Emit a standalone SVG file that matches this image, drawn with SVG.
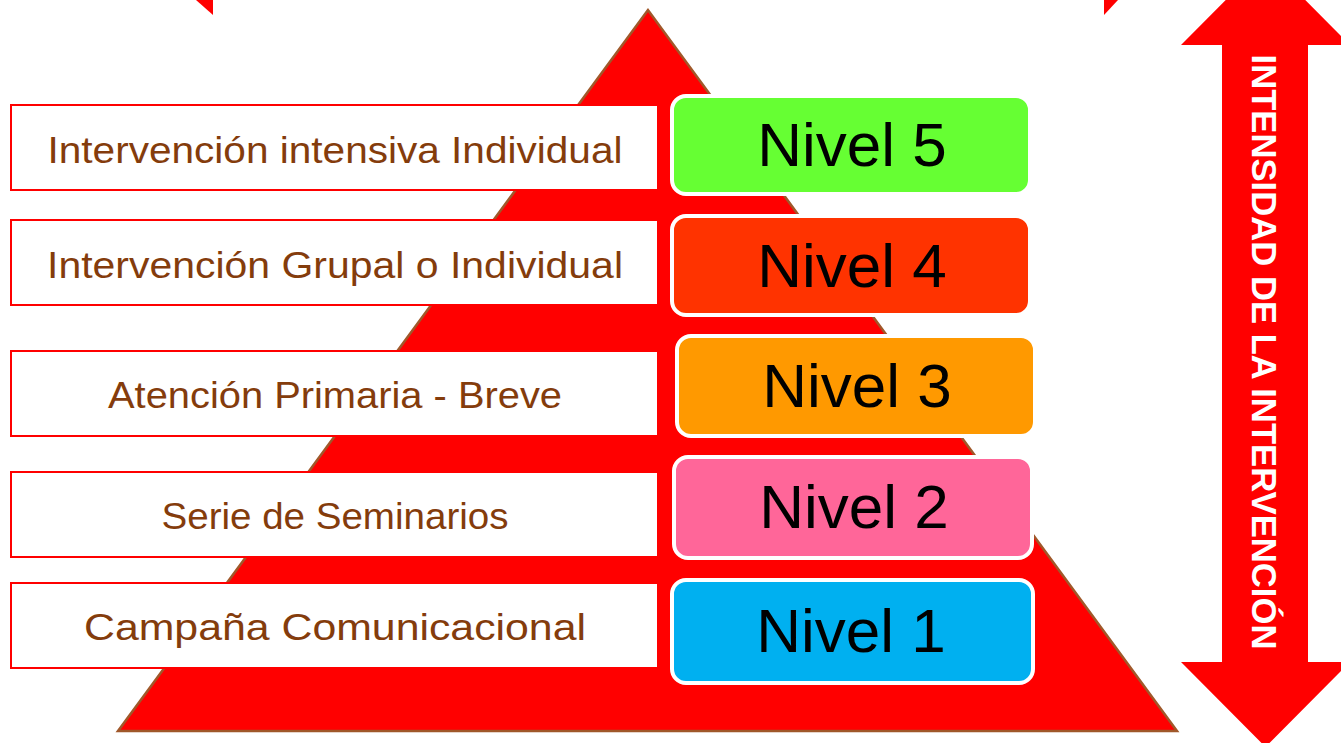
<svg xmlns="http://www.w3.org/2000/svg" width="1341" height="743" viewBox="0 0 1341 743">
<style>
.lbl{fill:#FFFFFF;stroke:#FF0000;stroke-width:2}
.lt{font-family:"Liberation Sans",Arial,sans-serif;font-size:37px;fill:#843C0C;text-anchor:middle}
.lvl{stroke:#FFFFFF;stroke-width:4}
.nt{font-family:"Liberation Sans",Arial,sans-serif;font-size:62px;fill:#000000;text-anchor:middle}
.red{fill:#FF0000}
</style>
<rect width="1341" height="743" fill="#FFFFFF"/>
<g id="corners">
<polygon class="red" points="196,0 213,0 213,15"/>
<polygon class="red" points="1104,0 1118,0 1104,15"/>
</g>
<g id="pyramid">
<polygon points="648,10 118,731 1177,731" fill="#FF0000" stroke="#A0582A" stroke-width="2.5"/>
</g>
<g id="arrow">
<polygon class="red" points="1265.5,-40 1350,45 1308,45 1308,662 1350,662 1265.5,747 1181,662 1222,662 1222,45 1181,45"/>
<text transform="translate(1252,352) rotate(90)" font-family="'Liberation Sans',Arial,sans-serif" font-weight="bold" font-size="35" fill="#FFFFFF" text-anchor="middle" textLength="595" lengthAdjust="spacingAndGlyphs">INTENSIDAD DE LA INTERVENCIÓN</text>
</g>
<g id="label5"><rect class="lbl" x="11" y="105" width="647" height="85"/><text class="lt" x="335" y="163" textLength="575" lengthAdjust="spacingAndGlyphs">Intervención intensiva Individual</text></g>
<g id="label4"><rect class="lbl" x="11" y="220" width="647" height="85"/><text class="lt" x="335" y="278" textLength="576" lengthAdjust="spacingAndGlyphs">Intervención Grupal o Individual</text></g>
<g id="label3"><rect class="lbl" x="11" y="351" width="647" height="85"/><text class="lt" x="335" y="408" textLength="454" lengthAdjust="spacingAndGlyphs">Atención Primaria - Breve</text></g>
<g id="label2"><rect class="lbl" x="11" y="472" width="647" height="85"/><text class="lt" x="335" y="529" textLength="347" lengthAdjust="spacingAndGlyphs">Serie de Seminarios</text></g>
<g id="label1"><rect class="lbl" x="11" y="583" width="647" height="85"/><text class="lt" x="335" y="640" textLength="502" lengthAdjust="spacingAndGlyphs">Campaña Comunicacional</text></g>
<g id="nivel5"><rect class="lvl" x="672" y="96" width="358" height="98" rx="14" fill="#66FF33"/><text class="nt" x="852" y="166">Nivel 5</text></g>
<g id="nivel4"><rect class="lvl" x="672" y="216" width="358" height="99" rx="14" fill="#FF3300"/><text class="nt" x="852" y="287">Nivel 4</text></g>
<g id="nivel3"><rect class="lvl" x="677" y="336" width="358" height="100" rx="14" fill="#FF9900"/><text class="nt" x="857" y="407">Nivel 3</text></g>
<g id="nivel2"><rect class="lvl" x="674" y="457" width="358" height="101" rx="14" fill="#FF6699"/><text class="nt" x="854" y="528">Nivel 2</text></g>
<g id="nivel1"><rect class="lvl" x="672" y="580" width="361" height="103" rx="14" fill="#00B0F0"/><text class="nt" x="851" y="652">Nivel 1</text></g>
</svg>
